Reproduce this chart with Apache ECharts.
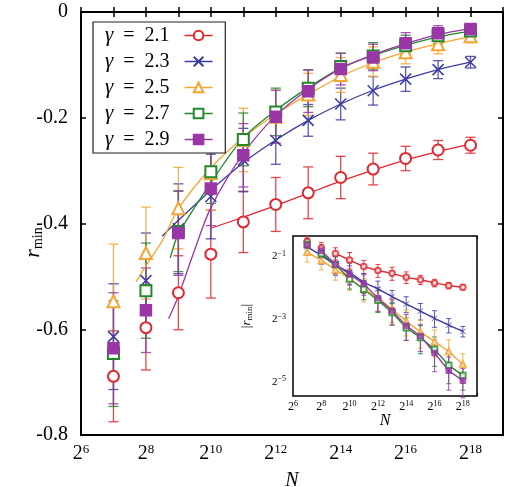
<!DOCTYPE html>
<html>
<head>
<meta charset="utf-8">
<script src="https://cdn.jsdelivr.net/npm/echarts@6/dist/echarts.min.js"></script>
<style>
  html, body { margin: 0; padding: 0; background: #fff; }
  #chart { width: 506px; height: 487px; }
</style>
</head>
<body>
<div id="chart"></div>
<script>
// x values are log2(N)
const logN = [7, 8, 9, 10, 11, 12, 13, 14, 15, 16, 17, 18]

// r_min and its error, one pair per gamma
const r21 = [-0.689, -0.597, -0.531, -0.458, -0.397, -0.364, -0.342, -0.313, -0.297, -0.277, -0.261, -0.252]
const e21 = [0.086, 0.08, 0.07, 0.083, 0.058, 0.051, 0.049, 0.04, 0.03, 0.023, 0.018, 0.015]
const r23 = [-0.614, -0.508, -0.41, -0.349, -0.28, -0.243, -0.205, -0.174, -0.149, -0.127, -0.109, -0.095]
const e23 = [0.1, 0.09, 0.085, 0.08, 0.06, 0.045, 0.03, 0.03, 0.027, 0.023, 0.017, 0.011]
const r25 = [-0.547, -0.456, -0.371, -0.305, -0.242, -0.198, -0.156, -0.119, -0.094, -0.076, -0.061, -0.046]
const e25 = [0.108, 0.087, 0.077, 0.07, 0.06, 0.05, 0.04, 0.033, 0.028, 0.022, 0.018, 0.012]
const r27 = [-0.646, -0.527, -0.415, -0.302, -0.241, -0.189, -0.144, -0.103, -0.083, -0.064, -0.045, -0.036]
const e27 = [0.1, 0.09, 0.076, 0.06, 0.05, 0.045, 0.035, 0.025, 0.025, 0.02, 0.015, 0.01]
const r29 = [-0.636, -0.564, -0.418, -0.334, -0.271, -0.198, -0.15, -0.108, -0.086, -0.059, -0.04, -0.032]
const e29 = [0.105, 0.08, 0.08, 0.07, 0.06, 0.05, 0.04, 0.03, 0.025, 0.02, 0.014, 0.01]

// fitted curves
const fit21N = [10, 11, 12, 13, 14, 15, 16, 17, 18]
const fit21R = [-0.409, -0.388, -0.366, -0.343, -0.320, -0.299, -0.280, -0.264, -0.250]
const fit23N = [8.5, 9, 10, 11, 12, 13, 14, 15, 16, 17, 18]
const fit23R = [-0.424, -0.394, -0.337, -0.285, -0.242, -0.205, -0.174, -0.148, -0.127, -0.109, -0.095]
const fit25N = [7.7, 8, 8.5, 9, 10, 11, 12, 13, 14, 15, 16, 17, 18]
const fit25R = [-0.51, -0.48, -0.433, -0.372, -0.295, -0.238, -0.193, -0.156, -0.122, -0.096, -0.076, -0.060, -0.046]
const fit27N = [8.75, 9, 10, 11, 12, 13, 14, 15, 16, 17, 18]
const fit27R = [-0.465, -0.42, -0.323, -0.238, -0.186, -0.143, -0.106, -0.082, -0.063, -0.047, -0.036]
const fit29N = [8.7, 9, 9.5, 10, 11, 12, 13, 14, 15, 16, 17, 18]
const fit29R = [-0.58, -0.537, -0.45, -0.37, -0.268, -0.196, -0.146, -0.107, -0.081, -0.06, -0.043, -0.031]

const yTicks = [-0.8, -0.6, -0.4, -0.2, 0]
const insetYTicks = [-5, -3, -1]

const FONT = 'Liberation Serif'
const groups = [
  { name: 'γ = 2.1', r: r21, e: e21, fN: fit21N, fR: fit21R, color: '#e3262d', symbol: 'emptyCircle', size: 11, inStart: 2 },
  { name: 'γ = 2.3', r: r23, e: e23, fN: fit23N, fR: fit23R, color: '#3b3ca3', symbol: 'path://M0,0L10,10M10,0L0,10', size: 11, inStart: 0 },
  { name: 'γ = 2.5', r: r25, e: e25, fN: fit25N, fR: fit25R, color: '#f6a431', symbol: 'emptyTriangle', size: 12, inStart: 0 },
  { name: 'γ = 2.7', r: r27, e: e27, fN: fit27N, fR: fit27R, color: '#22882b', symbol: 'emptyRect', size: 11, inStart: 1 },
  { name: 'γ = 2.9', r: r29, e: e29, fN: fit29N, fR: fit29R, color: '#9a36a6', symbol: 'rect', size: 11, inStart: 1 }
]

// vertical error bar with caps
const errBar = (cap, color, width) => (params, api) => {
  const x = api.value(0)
  const p1 = api.coord([x, api.value(1)])
  const p2 = api.coord([x, api.value(2)])
  const st = { stroke: color, lineWidth: width, opacity: 0.85 }
  return {
    type: 'group',
    children: [
      { type: 'line', shape: { x1: p1[0], y1: p1[1], x2: p2[0], y2: p2[1] }, style: st },
      { type: 'line', shape: { x1: p1[0] - cap, y1: p1[1], x2: p1[0] + cap, y2: p1[1] }, style: st },
      { type: 'line', shape: { x1: p2[0] - cap, y1: p2[1], x2: p2[0] + cap, y2: p2[1] }, style: st }
    ]
  }
}

const powLabel = (bs, ss, lift) => ({
  b: { fontFamily: FONT, fontSize: bs, color: '#000' },
  s: { fontFamily: FONT, fontSize: ss, color: '#000', verticalAlign: 'bottom', padding: [0, 0, lift, 0] }
})

const series = []
groups.forEach((g) => {
  // main plot
  series.push({
    type: 'custom', xAxisIndex: 0, yAxisIndex: 0, silent: true, z: 2,
    renderItem: errBar(5, g.color, 1.3),
    data: logN.map((n, i) => [n, g.r[i] - g.e[i], g.r[i] + g.e[i]])
  })
  series.push({
    type: 'line', xAxisIndex: 0, yAxisIndex: 0, silent: true, z: 3,
    data: g.fN.map((n, i) => [n, g.fR[i]]),
    showSymbol: false, smooth: 0.3,
    lineStyle: { color: g.color, width: 1.3 }
  })
  series.push({
    name: g.name, type: 'line', xAxisIndex: 0, yAxisIndex: 0, z: 4,
    data: logN.map((n, i) => [n, g.r[i]]),
    symbol: g.symbol, symbolSize: g.size,
    lineStyle: { opacity: 0 },
    itemStyle: { color: g.color, borderColor: g.color, borderWidth: 1.5 }
  })
  // inset: log2 |r_min|
  series.push({
    type: 'custom', xAxisIndex: 2, yAxisIndex: 2, silent: true, z: 6,
    renderItem: errBar(2.5, g.color, 1),
    data: logN.map((n, i) => [n, Math.log2(Math.abs(g.r[i]) - g.e[i]), Math.log2(Math.abs(g.r[i]) + g.e[i])])
  })
  series.push({
    type: 'line', xAxisIndex: 2, yAxisIndex: 2, silent: true, z: 7,
    data: logN.slice(g.inStart).map((n, i) => [n, Math.log2(Math.abs(g.r[i + g.inStart]))]),
    showSymbol: false,
    lineStyle: { color: g.color, width: 1.4 }
  })
  series.push({
    type: 'scatter', xAxisIndex: 2, yAxisIndex: 2, silent: true, z: 8,
    data: logN.map((n, i) => [n, Math.log2(Math.abs(g.r[i]))]),
    symbol: g.symbol, symbolSize: g.size * 0.5,
    itemStyle: { color: g.color, borderColor: g.color, borderWidth: 1 }
  })
})

const chart = echarts.init(document.getElementById('chart'), null, { renderer: 'canvas' })

chart.setOption({
  animation: false,
  backgroundColor: '#fff',
  grid: [
    { left: 81, top: 12, width: 422, height: 423, outerBoundsMode: 'none', show: true, borderColor: '#000', borderWidth: 2, backgroundColor: 'transparent' },
    { left: 293, top: 236, width: 184, height: 160, outerBoundsMode: 'none', show: true, borderColor: '#000', borderWidth: 1.5, backgroundColor: '#fff', z: 5 }
  ],
  legend: {
    orient: 'vertical', left: 93, top: 22,
    align: 'right',
    padding: [3, 12, 3, 12],
    itemGap: 5, itemWidth: 28, itemHeight: 12,
    backgroundColor: '#fff', borderColor: '#222', borderWidth: 1.2,
    textStyle: {
      fontFamily: FONT, fontSize: 20, lineHeight: 20, color: '#000',
      rich: {
        g: { fontFamily: FONT, fontStyle: 'italic', fontSize: 21, color: '#000' },
        t: { fontFamily: FONT, fontSize: 20, color: '#000' }
      }
    },
    formatter: (name) => '{g|γ}{t|\u2002=\u2002' + name.split('= ')[1] + '\u2002}',
    data: groups.map((g) => ({ name: g.name, lineStyle: { opacity: 1, width: 1.5, color: g.color } }))
  },
  xAxis: [
    {
      type: 'value', gridIndex: 0, position: 'bottom', min: 6, max: 19, interval: 1,
      axisLine: { show: false },
      axisTick: { inside: true, length: 5, lineStyle: { color: '#000', width: 1.5 } },
      splitLine: { show: false },
      axisLabel: {
        margin: 8,
        formatter: (v) => (v % 2 === 0 && v <= 18 ? '{b|2}{s|' + v + '}' : ''),
        rich: powLabel(20, 13, 9)
      },
      name: 'N', nameLocation: 'middle', nameGap: 36, nameMoveOverlap: false,
      nameTextStyle: { fontFamily: FONT, fontStyle: 'italic', fontSize: 20, color: '#000' }
    },
    {
      type: 'value', gridIndex: 0, position: 'top', min: 6, max: 19, interval: 1,
      axisLine: { show: false }, axisLabel: { show: false }, splitLine: { show: false },
      axisTick: { inside: true, length: 5, lineStyle: { color: '#000', width: 1.5 } }
    },
    {
      type: 'value', gridIndex: 1, position: 'bottom', min: 6, max: 19, interval: 1,
      axisLine: { show: false }, splitLine: { show: false },
      axisTick: { inside: true, length: 3, lineStyle: { color: '#000', width: 1 } },
      axisLabel: {
        margin: 4,
        formatter: (v) => (v % 2 === 0 && v <= 18 ? '{b|2}{s|' + v + '}' : ''),
        rich: powLabel(12, 8, 5)
      },
      name: 'N', nameLocation: 'middle', nameGap: 17, nameMoveOverlap: false,
      nameTextStyle: { fontFamily: FONT, fontStyle: 'italic', fontSize: 16, color: '#000' }
    },
    {
      type: 'value', gridIndex: 1, position: 'top', min: 6, max: 19, interval: 1,
      axisLine: { show: false }, axisLabel: { show: false }, splitLine: { show: false },
      axisTick: { inside: true, length: 3, lineStyle: { color: '#000', width: 1 } }
    }
  ],
  yAxis: [
    {
      type: 'value', gridIndex: 0, position: 'left', min: -0.8, max: 0,
      axisLine: { show: false }, splitLine: { show: false },
      axisTick: { inside: true, length: 5, customValues: yTicks, lineStyle: { color: '#000', width: 1.5 } },
      axisLabel: {
        customValues: yTicks, margin: 13,
        fontFamily: FONT, fontSize: 20, color: '#000',
        formatter: (v) => String(Math.round(v * 10) / 10)
      },
      name: '{i|r}{sub|min}', nameLocation: 'middle', nameGap: 36, nameRotate: 90, nameMoveOverlap: false,
      nameTextStyle: {
        padding: [0, 38, 0, 0],
        rich: {
          i: { fontFamily: FONT, fontStyle: 'italic', fontSize: 22, color: '#000' },
          sub: { fontFamily: FONT, fontSize: 14, color: '#000', verticalAlign: 'top', padding: [10, 0, 0, 0] }
        }
      }
    },
    {
      type: 'value', gridIndex: 0, position: 'right', min: -0.8, max: 0,
      axisLine: { show: false }, axisLabel: { show: false }, splitLine: { show: false },
      axisTick: { inside: true, length: 5, customValues: yTicks, lineStyle: { color: '#000', width: 1.5 } }
    },
    {
      type: 'value', gridIndex: 1, position: 'left', min: -5.45, max: -0.36,
      axisLine: { show: false }, splitLine: { show: false },
      axisTick: { inside: true, length: 3, customValues: insetYTicks, lineStyle: { color: '#000', width: 1 } },
      axisLabel: {
        customValues: insetYTicks, margin: 7,
        formatter: (v) => '{b|2}{s|−' + Math.abs(Math.round(v)) + '}',
        rich: powLabel(11, 8, 5)
      },
      name: '{n||}{i|r}{sub|min}{n||}', nameLocation: 'middle', nameGap: 39, nameRotate: 90, nameMoveOverlap: false,
      nameTextStyle: {
        rich: {
          n: { fontFamily: FONT, fontSize: 13, color: '#000' },
          i: { fontFamily: FONT, fontStyle: 'italic', fontSize: 13, color: '#000' },
          sub: { fontFamily: FONT, fontSize: 9, color: '#000', verticalAlign: 'top', padding: [6, 0, 0, 0] }
        }
      }
    },
    {
      type: 'value', gridIndex: 1, position: 'right', min: -5.45, max: -0.36,
      axisLine: { show: false }, axisLabel: { show: false }, splitLine: { show: false },
      axisTick: { inside: true, length: 3, customValues: insetYTicks, lineStyle: { color: '#000', width: 1 } }
    }
  ],
  series
})
</script>
</body>
</html>
